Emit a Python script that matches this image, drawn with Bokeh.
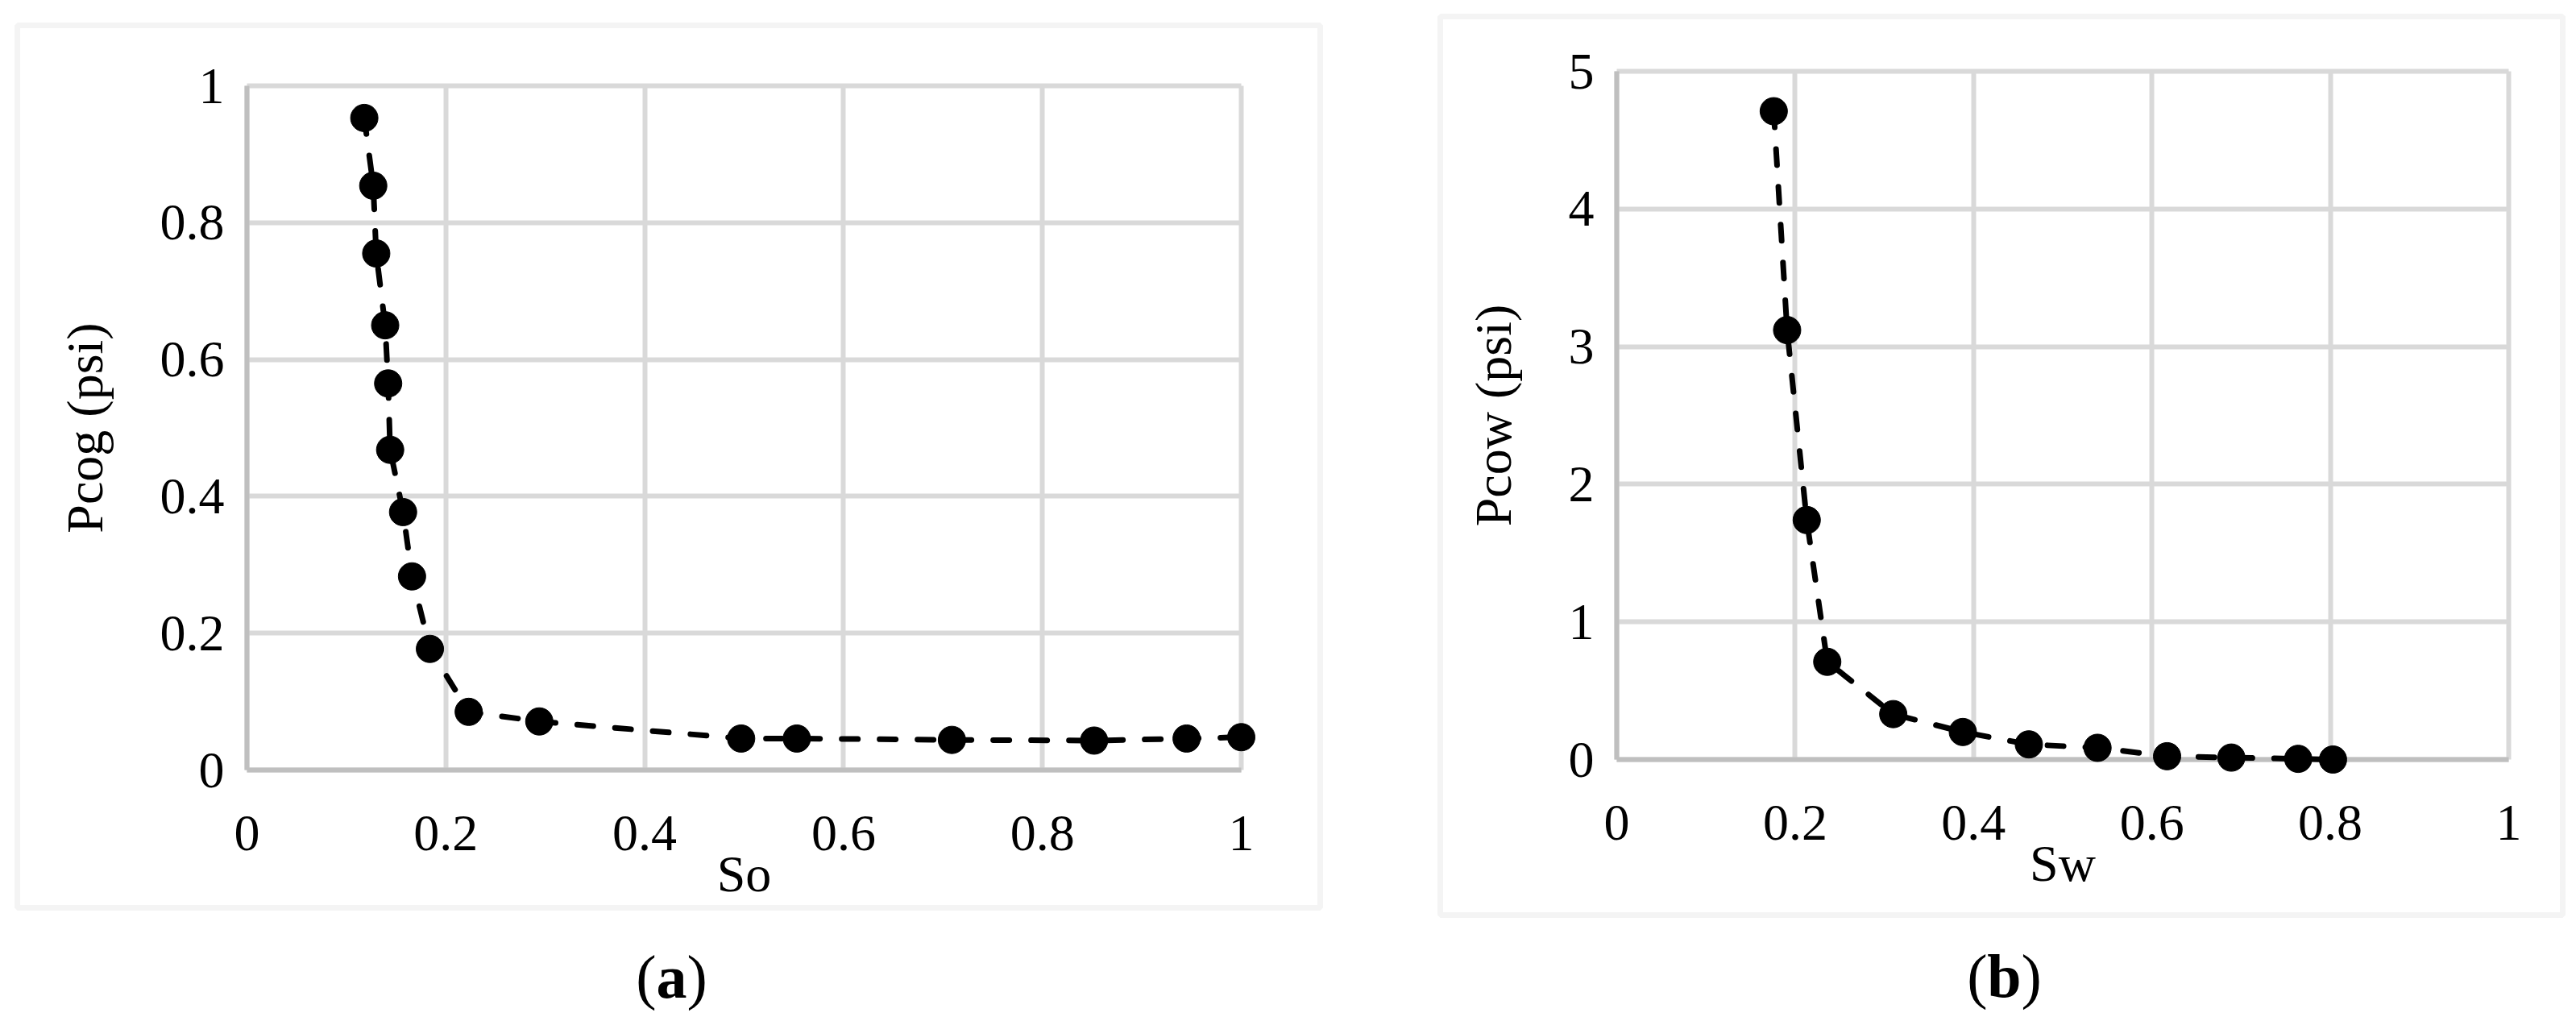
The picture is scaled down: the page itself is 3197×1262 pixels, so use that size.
from bokeh.plotting import figure
from bokeh.models import Range1d, FixedTicker, BoxAnnotation, Label
from bokeh.layouts import row
from bokeh.embed import file_html
from bokeh.resources import INLINE

# ---------------- data ----------------
so_values = [0.118, 0.127, 0.130, 0.139, 0.142, 0.144, 0.157, 0.166, 0.184,
             0.223, 0.294, 0.497, 0.553, 0.709, 0.852, 0.945, 1.0]
pcog_values = [0.953, 0.854, 0.755, 0.650, 0.565, 0.468, 0.377, 0.283, 0.177,
               0.085, 0.071, 0.046, 0.046, 0.044, 0.043, 0.046, 0.048]

sw_values = [0.176, 0.191, 0.213, 0.236, 0.310, 0.388, 0.462, 0.539, 0.617,
             0.689, 0.764, 0.803]
pcow_values = [4.71, 3.12, 1.74, 0.71, 0.33, 0.20, 0.11, 0.085, 0.024,
               0.014, 0.005, 0.0]

sat_ticks = [0, 0.2, 0.4, 0.6, 0.8, 1]
sat_tick_labels = ["0", "0.2", "0.4", "0.6", "0.8", "1"]
pcog_ticks = [0, 0.2, 0.4, 0.6, 0.8, 1]
pcog_tick_labels = ["0", "0.2", "0.4", "0.6", "0.8", "1"]
pcow_ticks = [0, 1, 2, 3, 4, 5]
pcow_tick_labels = ["0", "1", "2", "3", "4", "5"]

# ---------------- style ----------------
FONT = "Liberation Serif"
GRID = "#d9d9d9"
AXIS = "#bfbfbf"
PAGE_TOP = 0
H = 1260
TICK_SIZE = "64px"
TITLE_SIZE = "64px"
CAPTION_SIZE = "76px"


def make_panel(xs, ys, xt, xtl, yt, ytl, x_title, y_title, caption,
               canvas_left, canvas_w, plot_box, border_box, caption_xy,
               caption_half):
    # plot_box / border_box / caption_xy are page-pixel geometry of the panel
    L, T, R, B = plot_box
    x0, x1 = xt[0], xt[-1]
    y0, y1 = yt[0], yt[-1]
    sx = (x1 - x0) / (R - L)
    sy = (y1 - y0) / (B - T)

    def dx(px):
        return x0 + (px - L) * sx

    def dy(py):
        return y0 + (B - py) * sy

    p = figure(x_range=Range1d(dx(canvas_left), dx(canvas_left + canvas_w)),
               y_range=Range1d(dy(PAGE_TOP + H), dy(PAGE_TOP)),
               frame_width=canvas_w, frame_height=H,
               min_border=0, min_border_left=0, min_border_right=0,
               min_border_top=0, min_border_bottom=0,
               title=None, output_backend="svg", toolbar_location=None, tools="")
    p.outline_line_color = None
    p.background_fill_color = "white"
    p.border_fill_color = "white"

    # border around the panel
    bl, bt, br, bb = border_box
    p.add_layout(BoxAnnotation(left=dx(bl), right=dx(br), top=dy(bt), bottom=dy(bb),
                               fill_color=None, line_color=GRID, line_width=7,
                               level="underlay"))

    # grid
    p.xgrid.ticker = FixedTicker(ticks=xt)
    p.ygrid.ticker = FixedTicker(ticks=yt)
    p.xgrid.bounds = (x0 - 0.01 * (x1 - x0), x1 + 0.01 * (x1 - x0))
    p.ygrid.bounds = (y0 - 0.01 * (y1 - y0), y1 + 0.01 * (y1 - y0))
    p.xgrid.cross_bounds = (y0, y1)
    p.ygrid.cross_bounds = (x0, x1)
    for g in (p.xgrid[0], p.ygrid[0]):
        g.grid_line_color = GRID
        g.grid_line_width = 6

    # axes drawn inside the frame at the data origin
    p.xaxis.fixed_location = y0
    p.yaxis.fixed_location = x0
    p.xaxis.bounds = (x0, x1)
    p.yaxis.bounds = (y0, y1)
    for ax in (p.xaxis[0], p.yaxis[0]):
        ax.axis_line_color = AXIS
        ax.axis_line_width = 6
        ax.major_tick_line_color = None
        ax.minor_tick_line_color = None
        ax.major_tick_out = 0
        ax.major_tick_in = 0
        ax.minor_tick_out = 0
        ax.minor_tick_in = 0
        ax.major_label_text_font = FONT
        ax.major_label_text_font_size = TICK_SIZE
        ax.major_label_text_color = "black"
        ax.axis_label_text_font = FONT
        ax.axis_label_text_font_size = TITLE_SIZE
        ax.axis_label_text_font_style = "normal"
        ax.axis_label_text_color = "black"
    p.xaxis.ticker = FixedTicker(ticks=xt)
    p.xaxis.major_label_overrides = dict(zip(xt, xtl))
    p.yaxis.ticker = FixedTicker(ticks=yt)
    p.yaxis.major_label_overrides = dict(zip(yt, ytl))
    p.xaxis.axis_label = x_title
    p.yaxis.axis_label = y_title
    p.xaxis.major_label_standoff = 57
    p.yaxis.major_label_standoff = 28
    p.xaxis.axis_label_standoff = -9
    p.yaxis.axis_label_standoff = 55

    # data
    ln = p.line(xs, ys, line_color="black", line_width=7, line_dash="20 27",
                line_cap="round")
    sc = p.scatter(xs, ys, size=34, fill_color="black", line_color="black")
    ln.level = "overlay"
    sc.level = "overlay"

    # caption: "(" regular, letter bold, ")" regular
    cx, cy = caption_xy
    common = dict(x=dx(cx), y=dy(cy), text_font=FONT, text_font_size=CAPTION_SIZE,
                  text_baseline="middle", text_color="black")
    p.add_layout(Label(text=caption, text_font_style="bold", text_align="center",
                       **common))
    p.add_layout(Label(text="(", text_align="right", x_offset=-caption_half,
                       **common))
    p.add_layout(Label(text=")", text_align="left", x_offset=caption_half,
                       **common))
    return p


pa = make_panel(so_values, pcog_values, sat_ticks, sat_tick_labels,
                pcog_ticks, pcog_tick_labels, "So", "Pcog (psi)", "a",
                canvas_left=0, canvas_w=1704,
                plot_box=(306, 106, 1540, 955),
                border_box=(21, 31, 1638, 1126),
                caption_xy=(833, 1211), caption_half=19)

pb = make_panel(sw_values, pcow_values, sat_ticks, sat_tick_labels,
                pcow_ticks, pcow_tick_labels, "Sw", "Pcow (psi)", "b",
                canvas_left=1704, canvas_w=1490,
                plot_box=(2006, 88, 3113, 942),
                border_box=(1787, 20, 3180, 1135),
                caption_xy=(2487, 1210), caption_half=21)

layout = row(pa, pb)
open("out.html", "w").write(file_html(layout, INLINE))
